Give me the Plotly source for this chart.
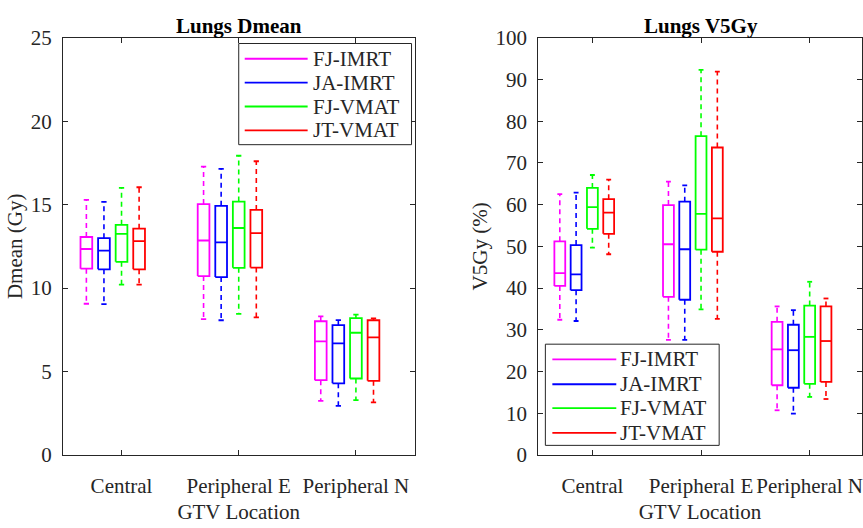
import plotly.graph_objects as go

categories = ["Central", "Peripheral E", "Peripheral N"]
methods = ["FJ-IMRT", "JA-IMRT", "FJ-VMAT", "JT-VMAT"]
colors = ["#FF00FF", "#0000FF", "#00FF00", "#FF0000"]
offsets = [-0.3, -0.15, 0.0, 0.15]

# Lungs Dmean (Gy) — rows: methods, cols: categories
dmean_low = [[9.06, 8.14, 3.24], [9.04, 8.07, 2.94], [10.2, 8.45, 3.28], [10.2, 8.24, 3.15]]
dmean_q1 = [[11.16, 10.72, 4.48], [11.12, 10.66, 4.29], [11.57, 11.21, 4.58], [11.12, 11.23, 4.44]]
dmean_med = [[12.34, 12.85, 6.81], [12.24, 12.74, 6.69], [13.25, 13.6, 7.32], [12.81, 13.29, 7.04]]
dmean_q3 = [[13.06, 15.03, 8.01], [12.99, 14.93, 7.78], [13.79, 15.18, 8.2], [13.56, 14.68, 8.07]]
dmean_up = [[15.29, 17.28, 8.30], [15.16, 17.14, 8.08], [16.0, 17.93, 8.41], [16.04, 17.6, 8.18]]

# Lungs V5Gy (%)
v5_low = [[32.4, 27.6, 10.7], [32.1, 27.6, 9.9], [49.7, 34.9, 13.9], [48.1, 32.6, 13.4]]
v5_q1 = [[40.5, 37.9, 16.7], [39.5, 37.2, 16.1], [54.2, 49.2, 17.05], [53.0, 48.7, 17.5]]
v5_med = [[43.6, 50.5, 25.3], [43.3, 49.3, 25.1], [59.4, 57.8, 28.3], [58.1, 56.7, 27.3]]
v5_q3 = [[51.2, 59.9, 31.9], [50.3, 60.7, 31.2], [64.0, 76.4, 35.8], [61.3, 73.7, 35.6]]
v5_up = [[62.5, 65.5, 35.6], [62.9, 64.6, 34.7], [67.1, 92.3, 41.5], [66.0, 91.9, 37.5]]

W, H = 863, 528
FONT = "Liberation Serif, Times New Roman, serif"
DARK = "#262626"
BOX_W = 0.1
CAP_W = 0.045

fig = go.Figure()


def add_boxes(low, q1, med, q3, up, xa, ya):
    for m, name in enumerate(methods):
        sx, sy, dx, dy = [], [], [], []
        for c in range(len(categories)):
            x = c + 1 + offsets[m]
            l, r = x - BOX_W / 2, x + BOX_W / 2
            # box outline
            sx += [l, r, r, l, l, None]
            sy += [q1[m][c], q1[m][c], q3[m][c], q3[m][c], q1[m][c], None]
            # median
            sx += [l, r, None]
            sy += [med[m][c], med[m][c], None]
            # caps
            sx += [x - CAP_W / 2, x + CAP_W / 2, None, x - CAP_W / 2, x + CAP_W / 2, None]
            sy += [up[m][c], up[m][c], None, low[m][c], low[m][c], None]
            # whiskers
            dx += [x, x, None, x, x, None]
            dy += [q3[m][c], up[m][c], None, q1[m][c], low[m][c], None]
        fig.add_trace(go.Scatter(x=dx, y=dy, mode="lines", xaxis=xa, yaxis=ya,
                                 line=dict(color=colors[m], width=1.6, dash="5px,4px"),
                                 showlegend=False, hoverinfo="skip"))
        fig.add_trace(go.Scatter(x=sx, y=sy, mode="lines", xaxis=xa, yaxis=ya, name=name,
                                 line=dict(color=colors[m], width=1.8),
                                 showlegend=False))


add_boxes(dmean_low, dmean_q1, dmean_med, dmean_q3, dmean_up, "x", "y")
add_boxes(v5_low, v5_q1, v5_med, v5_q3, v5_up, "x2", "y2")


def px(x):
    return x / W


def py(y):
    return 1 - y / H


axis_common = dict(showline=True, linecolor=DARK, linewidth=1, mirror="ticks",
                   ticks="inside", ticklen=5, tickcolor=DARK, showgrid=False,
                   zeroline=False, tickfont=dict(family=FONT, size=21, color=DARK))

fig.update_layout(
    width=W, height=H, margin=dict(l=0, r=0, t=0, b=0),
    paper_bgcolor="white", plot_bgcolor="white", showlegend=False,
    font=dict(family=FONT, size=21, color=DARK),
    xaxis=dict(domain=[px(63), px(415)], range=[0.5, 3.5], tickvals=[1, 2, 3],
               ticktext=categories, tickangle=0, ticklabelstandoff=12, ticklabeloverflow="allow",
               title=dict(text="GTV Location", standoff=7, font=dict(family=FONT, size=21, color=DARK)),
               anchor="y", **axis_common),
    yaxis=dict(domain=[py(464), py(27)], range=[0, 25], dtick=5, ticklabelstandoff=6,
               title=dict(text="Dmean (Gy)", standoff=2, font=dict(family=FONT, size=21, color=DARK)),
               anchor="x", **axis_common),
    xaxis2=dict(domain=[px(538.7), 1.0], range=[0.5, 3.5 - 2 / 108.7], tickvals=[1, 2, 3],
                ticktext=categories, tickangle=0, ticklabelstandoff=12, ticklabeloverflow="allow",
                title=dict(text="GTV Location", standoff=7, font=dict(family=FONT, size=21, color=DARK)),
                anchor="y2", **axis_common),
    yaxis2=dict(domain=[py(464), py(27)], range=[0, 100], dtick=10, ticklabelstandoff=6,
                title=dict(text="V5Gy (%)", standoff=2, font=dict(family=FONT, size=21, color=DARK)),
                anchor="x2", **axis_common),
)

# subplot titles
fig.add_annotation(text="<b>Lungs Dmean</b>", x=px(239), y=py(15), xref="paper", yref="paper",
                   showarrow=False, xanchor="center", yanchor="middle",
                   font=dict(family=FONT, size=21, color="black"))
fig.add_annotation(text="<b>Lungs V5Gy</b>", x=px(702), y=py(15), xref="paper", yref="paper",
                   showarrow=False, xanchor="center", yanchor="middle",
                   font=dict(family=FONT, size=21, color="black"))


# legends drawn in paper space
def draw_legend(x0, y0, x1, y1, sx0, sx1, tx, ys):
    fig.add_shape(type="rect", xref="paper", yref="paper", x0=px(x0), x1=px(x1), y0=py(y1), y1=py(y0),
                  line=dict(color=DARK, width=1), fillcolor="white", layer="above")
    for m, name in enumerate(methods):
        fig.add_shape(type="line", xref="paper", yref="paper", x0=px(sx0), x1=px(sx1),
                      y0=py(ys[m]), y1=py(ys[m]), line=dict(color=colors[m], width=1.8), layer="above")
        fig.add_annotation(text=name, x=px(tx), y=py(ys[m]), xref="paper", yref="paper",
                           showarrow=False, xanchor="left", yanchor="middle",
                           font=dict(family=FONT, size=21, color=DARK))


draw_legend(239, 33, 412, 139, 245, 308, 311, [49, 74, 99, 124])
draw_legend(546, 348, 720, 454, 553, 617, 619, [364, 390, 415, 441])

fig.write_html("out.html")
